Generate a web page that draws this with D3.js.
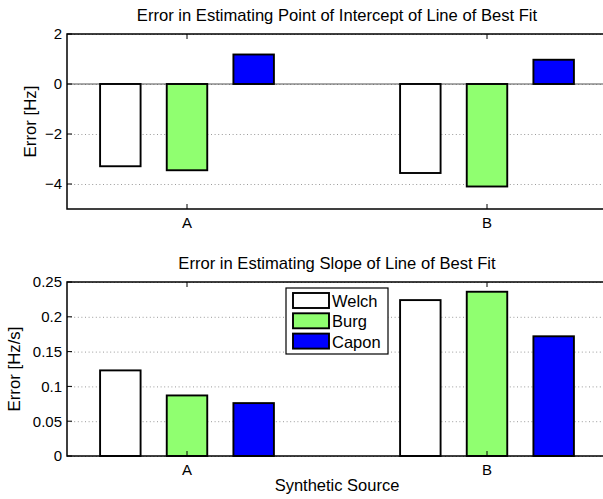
<!DOCTYPE html>
<html>
<head>
<meta charset="utf-8">
<script src="https://cdn.jsdelivr.net/npm/d3@7"></script>
<style>
  body { margin: 0; background: #fff; }
  svg { display: block; font-family: "Liberation Sans", Arial, sans-serif; }
</style>
</head>
<body>
<div id="chart"></div>
<script>
// data
var categories = ['A', 'B']
var seriesNames = ['Welch', 'Burg', 'Capon']
var seriesColors = ['#ffffff', '#90ff70', '#0000ff']

var welchIntercept = [-3.29, -3.56]
var burgIntercept = [-3.45, -4.1]
var caponIntercept = [1.18, 0.97]

var welchSlope = [0.123, 0.224]
var burgSlope = [0.087, 0.236]
var caponSlope = [0.076, 0.172]

var interceptTicks = [-4, -2, 0, 2]
var slopeTicks = [0, 0.05, 0.1, 0.15, 0.2, 0.25]

var width = 603
var height = 499

var svg = d3.select('#chart').append('svg')
	.attr('width', width)
	.attr('height', height)

// shared x scale, matlab style xlim [0.6, 2.4]
var x = d3.scaleLinear().domain([0.6, 2.4]).range([67, 607])
var barOffsets = [-2 / 9, 0, 2 / 9]
var barW = 0.135

function drawPanel(opts) {
	var y = d3.scaleLinear().domain(opts.domain).range([opts.bottom, opts.top])
	var g = svg.append('g')
	var x0 = x.range()[0], x1 = x.range()[1]

	// dotted y grid
	g.selectAll('.grid')
		.data(opts.ticks)
		.enter().append('line')
			.attr('x1', x0).attr('x2', x1)
			.attr('y1', function(d) { return y(d) + 0.5 })
			.attr('y2', function(d) { return y(d) + 0.5 })
			.attr('stroke', '#9a9a9a')
			.attr('stroke-width', 1)
			.attr('stroke-dasharray', '1,2.6')

	// baseline
	if (opts.domain[0] < 0) {
		g.append('line')
			.attr('x1', x0).attr('x2', x1)
			.attr('y1', y(0)).attr('y2', y(0))
			.attr('stroke', '#555')
			.attr('stroke-width', 1.2)
	}

	// bars
	opts.series.forEach(function(vals, si) {
		g.selectAll('.bar' + si)
			.data(vals)
			.enter().append('rect')
				.attr('x', function(d, i) { return x(i + 1 + barOffsets[si] - barW / 2) })
				.attr('width', x(barW) - x(0))
				.attr('y', function(d) { return y(Math.max(0, d)) })
				.attr('height', function(d) { return Math.abs(y(d) - y(0)) })
				.attr('fill', seriesColors[si])
				.attr('stroke', '#000')
				.attr('stroke-width', 1.9)
	})

	// axis box
	g.append('rect')
		.attr('x', x0).attr('y', opts.top)
		.attr('width', x1 - x0).attr('height', opts.bottom - opts.top)
		.attr('fill', 'none')
		.attr('stroke', '#000')
		.attr('stroke-width', 1.5)

	// y ticks + labels
	g.selectAll('.ytick')
		.data(opts.ticks)
		.enter().append('line')
			.attr('x1', x0).attr('x2', x0 + 5)
			.attr('y1', function(d) { return y(d) }).attr('y2', function(d) { return y(d) })
			.attr('stroke', '#000')
	g.selectAll('.ylab')
		.data(opts.ticks)
		.enter().append('text')
			.attr('x', x0 - 5)
			.attr('y', function(d) { return y(d) })
			.attr('dy', '0.36em')
			.attr('text-anchor', 'end')
			.attr('font-size', 15)
			.text(opts.fmt)

	// x ticks (bottom and top, inward)
	categories.forEach(function(c, i) {
		var cx = x(i + 1)
		g.append('line').attr('x1', cx).attr('x2', cx)
			.attr('y1', opts.bottom).attr('y2', opts.bottom - 5).attr('stroke', '#000')
		g.append('line').attr('x1', cx).attr('x2', cx)
			.attr('y1', opts.top).attr('y2', opts.top + 5).attr('stroke', '#000')
		g.append('text')
			.attr('x', cx).attr('y', opts.bottom + 19)
			.attr('text-anchor', 'middle')
			.attr('font-size', 15)
			.text(c)
	})

	// title
	g.append('text')
		.attr('x', (x0 + x1) / 2).attr('y', opts.top - 13)
		.attr('text-anchor', 'middle')
		.attr('font-size', 16.6)
		.text(opts.title)

	// y label
	g.append('text')
		.attr('transform', 'translate(' + opts.ylabX + ',' + (opts.top + opts.bottom) / 2 + ') rotate(-90)')
		.attr('text-anchor', 'middle')
		.attr('font-size', 16.8)
		.text(opts.ylabel)

	return { g: g, y: y }
}

drawPanel({
	domain: [-5, 2], top: 34, bottom: 209,
	ticks: interceptTicks,
	series: [welchIntercept, burgIntercept, caponIntercept],
	fmt: function(d) { return d < 0 ? '\u2212' + Math.abs(d) : d },
	title: 'Error in Estimating Point of Intercept of Line of Best Fit',
	ylabel: 'Error [Hz]', ylabX: 36
})

drawPanel({
	domain: [0, 0.25], top: 282, bottom: 456,
	ticks: slopeTicks,
	series: [welchSlope, burgSlope, caponSlope],
	fmt: function(d) { return d },
	title: 'Error in Estimating Slope of Line of Best Fit',
	ylabel: 'Error [Hz/s]', ylabX: 20
})

svg.append('text')
	.attr('x', (x.range()[0] + x.range()[1]) / 2).attr('y', 491)
	.attr('text-anchor', 'middle')
	.attr('font-size', 16.5)
	.text('Synthetic Source')

// legend
var legend = svg.append('g').attr('transform', 'translate(286,288)')
legend.append('rect')
	.attr('width', 102).attr('height', 66)
	.attr('fill', '#fff').attr('stroke', '#000').attr('stroke-width', 1.2)
var item = legend.selectAll('.item')
	.data(seriesNames)
	.enter().append('g')
		.attr('transform', function(d, i) { return 'translate(7,' + (5 + i * 20.3) + ')' })
item.append('rect')
	.attr('width', 36).attr('height', 15)
	.attr('fill', function(d, i) { return seriesColors[i] })
	.attr('stroke', '#000').attr('stroke-width', 1.9)
item.append('text')
	.attr('x', 39).attr('y', 8).attr('dy', '0.36em')
	.attr('font-size', 16.5)
	.text(function(d) { return d })
</script>
</body>
</html>
